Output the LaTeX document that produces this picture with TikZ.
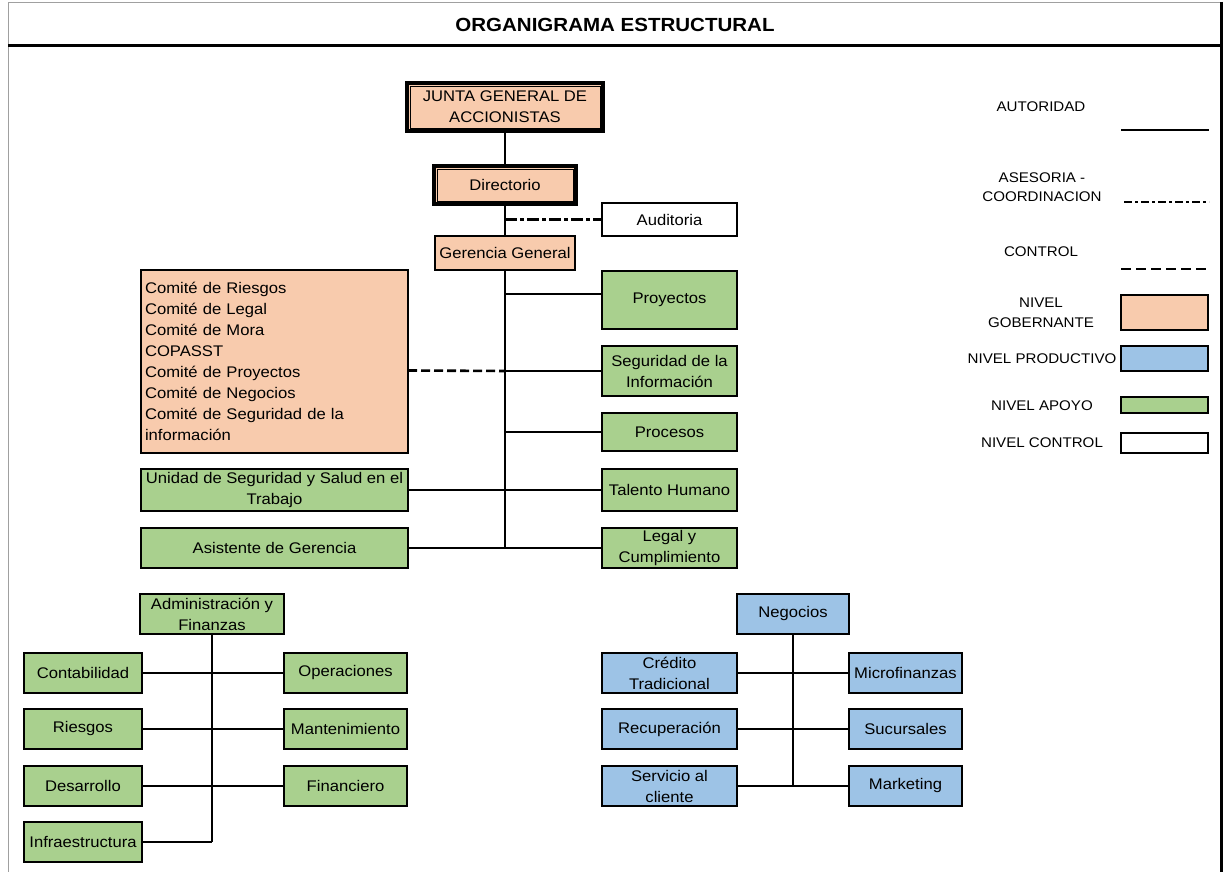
\documentclass[tikz,border=0pt]{standalone}
\usepackage{fontspec}
\setmainfont{Liberation Sans}[FakeStretch=1.08]
\definecolor{govfill}{HTML}{F8CBAD}
\definecolor{prodfill}{HTML}{9DC3E6}
\definecolor{supfill}{HTML}{A9D08E}
\definecolor{framegray}{HTML}{A0A0A0}

% box given by its corners: name, x1, y1, x2, y2, style, text
\newcommand\orgbox[7]{%
  \node[#6, minimum width={#4-#2}, minimum height={#5-#3}] (#1)
    at ({(#2+#4)/2},{(#3+#5)/2}) {#7};}

\begin{document}
\begin{tikzpicture}[x=1pt,y=-1pt,
  unitbox/.style={draw=black, line width=2pt, inner sep=0pt, outer sep=0pt,
    align=center, font=\fontsize{15.4}{21}\selectfont, text=black},
  govbox/.style={unitbox, fill=govfill},
  prodbox/.style={unitbox, fill=prodfill},
  supbox/.style={unitbox, fill=supfill},
  ctrlbox/.style={unitbox, fill=white},
  headbox/.style={govbox, line width=3.2pt},
  link/.style={draw=black, line width=2pt},
  ctrlline/.style={draw=black, line width=2.6pt, dash pattern=on 9pt off 4pt},
  advline/.style={draw=black, line width=2.6pt, dash pattern=on 12pt off 3pt on 4pt off 3pt},
  legtext/.style={font=\fontsize{14}{20}\selectfont, align=center, inner sep=0pt}
]
\useasboundingbox (0,0) rectangle (1226,872);

% frame and title
\draw[framegray, line width=1pt] (8,872) -- (8,3) -- (1221,3);
\draw[black, line width=3pt] (1221,2) -- (1221,872);
\draw[black, line width=3pt] (8,46) -- (1222,46);
\node[font=\bfseries\fontsize{19}{22}\selectfont, inner sep=0pt] (title) at (615,25) {ORGANIGRAMA ESTRUCTURAL};

% governing level
\orgbox{jga}{407}{83}{603}{131}{headbox}{JUNTA GENERAL DE\\ACCIONISTAS}
\draw[line width=0.7pt] ([xshift=3pt,yshift=-3pt]jga.north west) rectangle ([xshift=-3pt,yshift=3pt]jga.south east);
\orgbox{dir}{434}{166}{576}{204}{headbox}{Directorio}
\draw[line width=0.7pt] ([xshift=3pt,yshift=-3pt]dir.north west) rectangle ([xshift=-3pt,yshift=3pt]dir.south east);
\orgbox{aud}{602}{203}{737}{236}{ctrlbox}{Auditoria}
\orgbox{ger}{435}{236}{575}{270}{govbox}{Gerencia General}
\orgbox{com}{141}{270}{408}{453}{govbox, align=left, text width=259pt}{Comité de Riesgos\\Comité de Legal\\Comité de Mora\\COPASST\\Comité de Proyectos\\Comité de Negocios\\Comité de Seguridad de la\\información}

% staff units under general management
\orgbox{pro}{602}{271}{737}{329}{supbox}{Proyectos}
\orgbox{seg}{602}{346}{737}{396}{supbox}{Seguridad de la\\Información}
\orgbox{prc}{602}{413}{737}{451}{supbox}{Procesos}
\orgbox{tal}{602}{469}{737}{511}{supbox}{Talento Humano}
\orgbox{leg}{602}{528}{737}{568}{supbox}{Legal y\\Cumplimiento}
\orgbox{uni}{141}{469}{408}{511}{supbox}{Unidad de Seguridad y Salud en el\\Trabajo}
\orgbox{asi}{141}{528}{408}{568}{supbox}{Asistente de Gerencia}

% administration and finance
\orgbox{adm}{140}{594}{284}{634}{supbox}{Administración y\\Finanzas}
\orgbox{con}{24}{653}{142}{693}{supbox}{Contabilidad}
\orgbox{rie}{24}{709}{142}{749}{supbox}{Riesgos}
\orgbox{des}{24}{766}{142}{806}{supbox}{Desarrollo}
\orgbox{inf}{24}{822}{142}{862}{supbox}{Infraestructura}
\orgbox{ope}{284}{653}{407}{693}{supbox}{Operaciones}
\orgbox{man}{284}{709}{407}{749}{supbox}{Mantenimiento}
\orgbox{fin}{284}{766}{407}{806}{supbox}{Financiero}

% business
\orgbox{neg}{737}{594}{849}{634}{prodbox}{Negocios}
\orgbox{cre}{602}{653}{737}{693}{prodbox}{Crédito\\Tradicional}
\orgbox{rec}{602}{709}{737}{749}{prodbox}{Recuperación}
\orgbox{ser}{602}{766}{737}{806}{prodbox}{Servicio al\\cliente}
\orgbox{mic}{849}{653}{962}{693}{prodbox}{Microfinanzas}
\orgbox{suc}{849}{709}{962}{749}{prodbox}{Sucursales}
\orgbox{mar}{849}{766}{962}{806}{prodbox}{Marketing}

% authority lines
\draw[link] (jga.south) -- (dir.north);
\draw[link] (dir.south) -- (ger.north);
\coordinate (tbot) at (ger.south |- asi.east);
\draw[link] (ger.south) -- (tbot);
\draw[link] (ger.south |- pro.west) ++(0,-6) -- ([yshift=6pt]pro.west);
\draw[link] (ger.south |- seg.west) -- (seg.west);
\draw[link] (ger.south |- prc.west) -- (prc.west);
\draw[link] (uni.east) -- (tal.west);
\draw[link] (asi.east) -- (leg.west);

\draw[link] (adm.south) -- (adm.south |- inf.east);
\draw[link] (inf.east) -- (adm.south |- inf.east);
\draw[link] (con.east) -- (ope.west);
\draw[link] (rie.east) -- (man.west);
\draw[link] (des.east) -- (fin.west);

\draw[link] (neg.south) -- (neg.south |- ser.east);
\draw[link] (cre.east) -- (mic.west);
\draw[link] (rec.east) -- (suc.west);
\draw[link] (ser.east) -- (mar.west);

% advisory and control lines
\draw[advline] (dir.south |- aud.west) -- (aud.west);
\draw[ctrlline] ([yshift=-9pt]com.east) -- (ger.south |- seg.west);

% legend
\node[legtext] (lauth) at (1041,107) {AUTORIDAD};
\coordinate (la1) at (1121,130); \coordinate (la2) at (1209,130);
\draw[link, line width=2.2pt] (la1) -- (la2);
\node[legtext, font=\fontsize{14}{19}\selectfont] (ladv) at (1042,187) {ASESORIA -\\COORDINACION};
\coordinate (lb1) at (1124,202); \coordinate (lb2) at (1209,202);
\draw[advline, line width=2.4pt, dash pattern=on 8pt off 3pt on 3pt off 3pt] (lb1) -- (lb2);
\node[legtext] (lctl) at (1041,252) {CONTROL};
\coordinate (lc1) at (1121,269); \coordinate (lc2) at (1207,269);
\draw[ctrlline, line width=2.4pt, dash pattern=on 10pt off 5pt] (lc1) -- (lc2);
\node[legtext] (lgov) at (1041,313) {NIVEL\\GOBERNANTE};
\orgbox{kgov}{1121}{295}{1208}{330}{govbox}{}
\node[legtext] (lprod) at (1042,359) {NIVEL PRODUCTIVO};
\orgbox{kprod}{1121}{346}{1208}{371}{prodbox}{}
\node[legtext] (lsup) at (1042,406) {NIVEL APOYO};
\orgbox{ksup}{1121}{397}{1208}{413}{supbox}{}
\node[legtext] (lctrl) at (1042,443) {NIVEL CONTROL};
\orgbox{kctrl}{1121}{433}{1208}{453}{ctrlbox}{}
\end{tikzpicture}
\end{document}
